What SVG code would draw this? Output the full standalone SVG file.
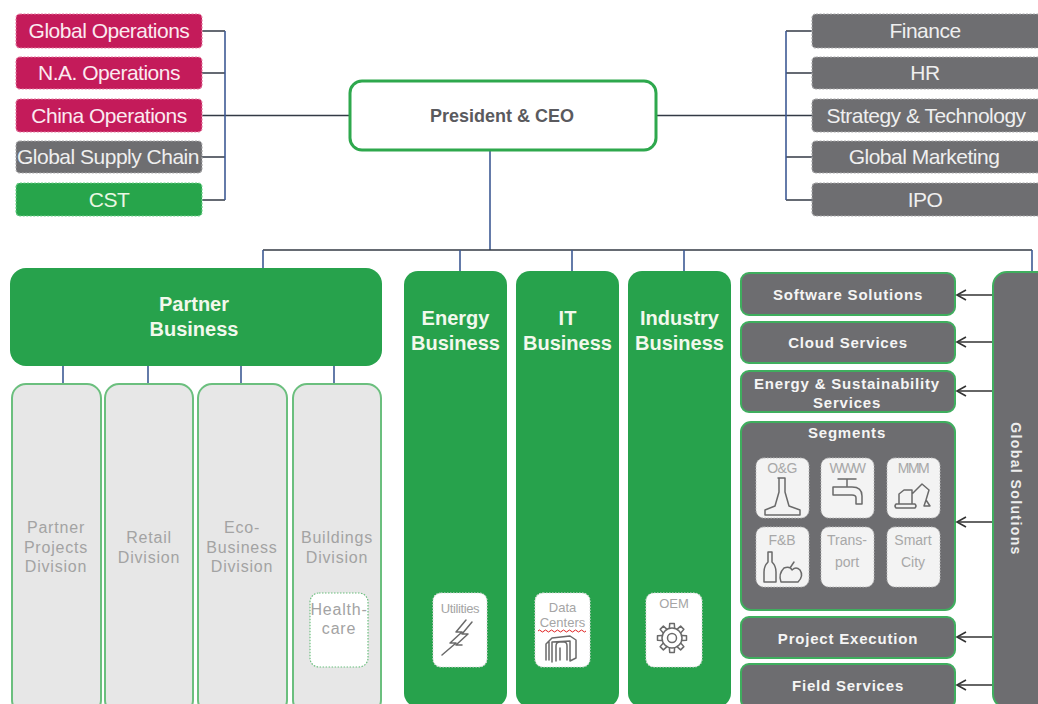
<svg xmlns="http://www.w3.org/2000/svg" width="1038" height="704" viewBox="0 0 1038 704">
<style>
text{font-family:"Liberation Sans",Arial,sans-serif}
.top{font-size:21px;text-anchor:middle;letter-spacing:-0.5px}
.crim{fill:#C41B5A;stroke:#E57AA0;stroke-width:1.2;stroke-dasharray:2 1.5}
.gray{fill:#6E6E71;stroke:#A9A9AB;stroke-width:1.2;stroke-dasharray:2 1.5}
.grn{fill:#27A54B;stroke:#6FD08A;stroke-width:1.2;stroke-dasharray:2 1.5}
.biz{fill:#27A24C}
.bizt{font-size:20px;font-weight:bold;fill:#F2F8EC;text-anchor:middle}
.div{fill:#E7E7E7;stroke:#6BBF7E;stroke-width:2}
.divt{font-size:16px;fill:#A3A3A3;text-anchor:middle;letter-spacing:0.8px}
.sub{fill:#FFFFFF;stroke:#DDDDDD;stroke-width:1.2;stroke-dasharray:1.5 1.5}
.subt{font-size:13px;fill:#A5A5A5;text-anchor:middle}
.sol{fill:#6D6D70;stroke:#3FAE5E;stroke-width:2}
.solt{font-size:15px;font-weight:bold;fill:#F5F5F5;text-anchor:middle;letter-spacing:0.8px}
.tile{fill:#F3F3F3;stroke:#BBBBBB;stroke-width:1;stroke-dasharray:1.5 1.5}
.tilet{font-size:14px;fill:#A8A8A8;text-anchor:middle}
.ico{fill:none;stroke:#6A6A6A;stroke-width:1.5;stroke-linejoin:round;stroke-linecap:round}
.h{stroke:#333A45;stroke-width:1.6;fill:none}
.v{stroke:#3E5A94;stroke-width:1.6;fill:none}
.arr{stroke:#333333;stroke-width:1.6;fill:none;marker-end:url(#ah)}
</style>
<defs>
<marker id="ah" viewBox="0 0 12 12" refX="10" refY="6" markerWidth="12" markerHeight="12" markerUnits="userSpaceOnUse" orient="auto">
<path d="M1,1 L10,6 L1,11" fill="none" stroke="#333" stroke-width="1.6"/>
</marker>
<path id="tooth" d="M10,-2.6 L14.5,-2.3 L14.5,2.3 L10,2.6"/>
</defs>
<rect width="1038" height="704" fill="#FFFFFF"/>

<!-- connectors -->
<g id="connectors">
<path class="h" d="M202,31 H225 M202,73 H225 M202,115.5 H350 M202,157 H225 M202,200 H225"/>
<path class="v" d="M225,31 V200"/>
<path class="h" d="M657,115.5 H812 M786,31 H812 M786,73 H812 M786,157 H812 M786,200 H812"/>
<path class="v" d="M786,31 V200"/>
<path class="v" d="M490,151 V250"/>
<path class="h" d="M263,250 H1032"/>
<path class="v" d="M263,250 V268 M460,250 V271 M572,250 V271 M684,250 V271 M1032,250 V272"/>
<path class="v" d="M63,366 V384 M148,366 V384 M241,366 V384 M334,366 V384"/>
</g>

<!-- left staff -->
<g id="global-operations"><rect class="crim" x="16" y="14" width="186" height="34" rx="4"/><text class="top" x="109" y="38" fill="#FBEAF0">Global Operations</text></g>
<g id="na-operations"><rect class="crim" x="16" y="57" width="186" height="32" rx="4"/><text class="top" x="109" y="80" fill="#FBEAF0">N.A. Operations</text></g>
<g id="china-operations"><rect class="crim" x="16" y="99" width="186" height="33" rx="4"/><text class="top" x="109" y="122.5" fill="#FBEAF0">China Operations</text></g>
<g id="global-supply-chain"><rect class="gray" x="16" y="141" width="186" height="32" rx="4"/><text class="top" x="108" y="164" fill="#EFEFEF">Global Supply Chain</text></g>
<g id="cst"><rect class="grn" x="16" y="183" width="186" height="33" rx="4"/><text class="top" x="109" y="207" fill="#EAF7E2">CST</text></g>

<!-- CEO -->
<g id="president-ceo"><rect x="350" y="81" width="306" height="69" rx="12" fill="#FFFFFF" stroke="#2EA84D" stroke-width="3"/><text x="502" y="122" font-size="18" font-weight="bold" fill="#5A5A5E" text-anchor="middle">President &amp; CEO</text></g>

<!-- right staff -->
<g id="finance"><rect class="gray" x="812" y="14" width="232" height="34" rx="4"/><text class="top" x="925" y="38" fill="#EFEFEF">Finance</text></g>
<g id="hr"><rect class="gray" x="812" y="57" width="232" height="32" rx="4"/><text class="top" x="925" y="80" fill="#EFEFEF">HR</text></g>
<g id="strategy-technology"><rect class="gray" x="812" y="99" width="232" height="33" rx="4"/><text class="top" x="926" y="122.5" fill="#EFEFEF">Strategy &amp; Technology</text></g>
<g id="global-marketing"><rect class="gray" x="812" y="141" width="232" height="32" rx="4"/><text class="top" x="924" y="164" fill="#EFEFEF">Global Marketing</text></g>
<g id="ipo"><rect class="gray" x="812" y="183" width="232" height="33" rx="4"/><text class="top" x="925" y="207" fill="#EFEFEF">IPO</text></g>

<!-- Partner business -->
<g id="partner-business"><rect class="biz" x="10" y="268" width="372" height="98" rx="16"/><text class="bizt" x="194" y="311">Partner</text><text class="bizt" x="194" y="336">Business</text></g>

<g id="partner-projects-division"><rect class="div" x="12" y="384" width="89" height="330" rx="14"/><text class="divt" x="56" y="533">Partner</text><text class="divt" x="56" y="553">Projects</text><text class="divt" x="56" y="572">Division</text></g>
<g id="retail-division"><rect class="div" x="105" y="384" width="88" height="330" rx="14"/><text class="divt" x="149" y="543">Retail</text><text class="divt" x="149" y="563">Division</text></g>
<g id="eco-business-division"><rect class="div" x="198" y="384" width="89" height="330" rx="14"/><text class="divt" x="242" y="533">Eco-</text><text class="divt" x="242" y="553">Business</text><text class="divt" x="242" y="572">Division</text></g>
<g id="buildings-division"><rect class="div" x="293" y="384" width="88" height="330" rx="14"/><text class="divt" x="337" y="543">Buildings</text><text class="divt" x="337" y="563">Division</text></g>
<g id="healthcare"><rect x="310" y="593" width="58" height="74" rx="9" fill="#FFFFFF" stroke="#6BBF7E" stroke-width="1.2" stroke-dasharray="1.5 1.5"/><text class="divt" x="339" y="615" font-size="15" letter-spacing="0.3">Health-</text><text class="divt" x="339" y="634" font-size="15" letter-spacing="0.3">care</text></g>

<!-- Energy / IT / Industry -->
<g id="energy-business"><rect class="biz" x="404" y="271" width="103" height="436" rx="14"/><text class="bizt" x="455.5" y="325">Energy</text><text class="bizt" x="455.5" y="350">Business</text></g>
<g id="it-business"><rect class="biz" x="516" y="271" width="103" height="436" rx="14"/><text class="bizt" x="567.5" y="325">IT</text><text class="bizt" x="567.5" y="350">Business</text></g>
<g id="industry-business"><rect class="biz" x="628" y="271" width="103" height="436" rx="14"/><text class="bizt" x="679.5" y="325">Industry</text><text class="bizt" x="679.5" y="350">Business</text></g>

<g id="utilities"><rect class="sub" x="433" y="593" width="54" height="74" rx="8"/><text class="subt" x="460" y="613" font-size="14" letter-spacing="-0.4">Utilities</text>
<path class="ico" d="M466,620 L456,632 L462,632 L450,643 L456,643 L442,655 M472,622 L462,634 L468,634 L456,645 L462,645"/></g>
<g id="data-centers"><rect class="sub" x="535" y="593" width="55" height="74" rx="8"/><text class="subt" x="562.5" y="612">Data</text><text class="subt" x="562.5" y="627">Centers</text>
<path d="M538,631 q1.5,-2 3,0 t3,0 t3,0 t3,0 t3,0 t3,0 t3,0 t3,0 t3,0 t3,0 t3,0 t3,0 t3,0 t3,0 t3,0 t3,0" fill="none" stroke="#E02020" stroke-width="1"/>
<path class="ico" d="M546,660 L546,644 L552,638 L570,636 L576,640 L576,658 L570,661 L570,641 L552,642 L552,662 M549,660 L549,642 M556,661 L556,646 Q556,642 560,642 L564,642 Q567,642 567,646 L567,660 M560,660 L560,648"/></g>
<g id="oem"><rect class="sub" x="646" y="593" width="56" height="74" rx="8"/><text class="subt" x="674" y="608" font-size="11">OEM</text>
<g transform="translate(672,638)" class="ico"><circle r="10"/><circle r="4.5"/><use href="#tooth"/><use href="#tooth" transform="rotate(45)"/><use href="#tooth" transform="rotate(90)"/><use href="#tooth" transform="rotate(135)"/><use href="#tooth" transform="rotate(180)"/><use href="#tooth" transform="rotate(225)"/><use href="#tooth" transform="rotate(270)"/><use href="#tooth" transform="rotate(315)"/></g></g>

<!-- solutions column -->
<g id="software-solutions"><rect class="sol" x="741" y="273" width="214" height="42" rx="8"/><text class="solt" x="848" y="300">Software Solutions</text></g>
<g id="cloud-services"><rect class="sol" x="741" y="322" width="214" height="41" rx="8"/><text class="solt" x="848" y="348">Cloud Services</text></g>
<g id="energy-sustainability-services"><rect class="sol" x="741" y="371" width="214" height="41" rx="8"/><text class="solt" x="847" y="389">Energy &amp; Sustainability</text><text class="solt" x="847" y="408">Services</text></g>
<g id="segments"><rect class="sol" x="741" y="422" width="214" height="188" rx="10"/><text class="solt" x="847" y="438">Segments</text>
<g id="seg-og"><rect class="tile" x="756" y="458" width="53" height="60" rx="8"/><text class="tilet" x="782" y="473" letter-spacing="-0.5">O&amp;G</text>
<path class="ico" d="M778,478 L785,478 M779,478 L779,492 L775,506 L765,510 L765,515 L800,515 L800,510 L789,506 L785,492 L785,478"/></g>
<g id="seg-www"><rect class="tile" x="821" y="458" width="53" height="60" rx="8"/><text class="tilet" x="847" y="473" letter-spacing="-1.5">WWW</text>
<path class="ico" d="M838,479 L856,479 M847,479 L847,486 M833,487 L852,487 Q862,487 862,496 L862,504 L856,504 L856,498 Q856,495 852,495 L833,495 Z"/></g>
<g id="seg-mmm"><rect class="tile" x="887" y="458" width="53" height="60" rx="8"/><text class="tilet" x="913" y="473" letter-spacing="-1.5">MMM</text>
<path class="ico" d="M899,504 L899,494 L904,490 L912,490 L912,504 Z M912,494 L922,484 L929,490 L926,500 M926,500 L930,506 L924,506 Z M896,504 L915,504 Q917,506 915,508 L896,508 Q894,506 896,504"/></g>
<g id="seg-fb"><rect class="tile" x="756" y="527" width="53" height="60" rx="8"/><text class="tilet" x="782" y="545">F&amp;B</text>
<path class="ico" d="M768,552 L772,552 L772,562 Q776,566 776,572 L776,582 L764,582 L764,572 Q764,566 768,562 Z M781,582 Q778,574 784,568 Q790,566 792,570 Q796,566 800,570 Q804,576 798,582 Z M790,568 L794,562"/></g>
<g id="seg-transport"><rect class="tile" x="821" y="527" width="53" height="60" rx="8"/><text class="tilet" x="847" y="545">Trans-</text><text class="tilet" x="847" y="567">port</text></g>
<g id="seg-smartcity"><rect class="tile" x="887" y="527" width="53" height="60" rx="8"/><text class="tilet" x="913" y="545">Smart</text><text class="tilet" x="913" y="567">City</text></g>
</g>
<g id="project-execution"><rect class="sol" x="741" y="617" width="214" height="41" rx="8"/><text class="solt" x="848" y="644">Project Execution</text></g>
<g id="field-services"><rect class="sol" x="741" y="664" width="214" height="44" rx="8"/><text class="solt" x="848" y="691">Field Services</text></g>

<g id="global-solutions"><rect class="sol" x="993" y="272" width="60" height="436" rx="14"/><text x="1011" y="489" transform="rotate(90 1011 489)" font-size="14" font-weight="bold" fill="#EDEDED" text-anchor="middle" letter-spacing="1.4">Global Solutions</text></g>

<g id="solution-arrows">
<path class="arr" d="M992,295 H957"/>
<path class="arr" d="M992,342 H957"/>
<path class="arr" d="M992,391 H957"/>
<path class="arr" d="M992,522 H957"/>
<path class="arr" d="M992,637 H957"/>
<path class="arr" d="M992,685 H957"/>
</g>
</svg>
